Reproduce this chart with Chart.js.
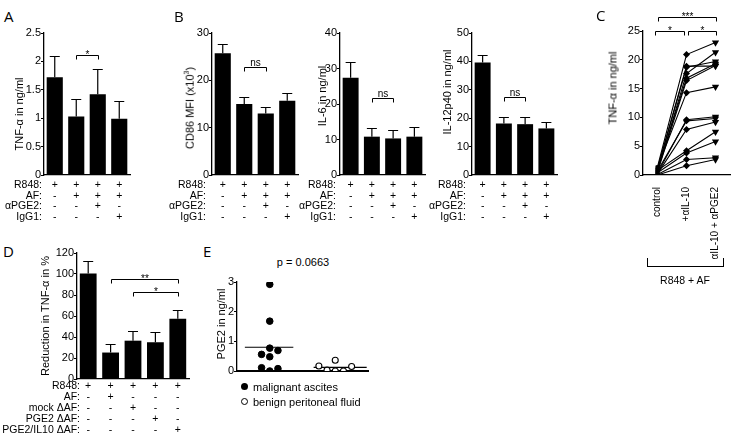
<!DOCTYPE html>
<html>
<head>
<meta charset="utf-8">
<script src="https://cdn.jsdelivr.net/npm/chart.js@4.4.0/dist/chart.umd.min.js"></script>
<style>
  body { margin: 0; background: #fff; width: 734px; height: 438px; position: relative; overflow: hidden;
         font-family: Arial, "Liberation Sans", sans-serif; color: #000; }
  canvas { position: absolute; }
  .t { position: absolute; font-size: 10.5px; line-height: 1; white-space: nowrap; color: #000; }
  .letter { position: absolute; font-family: "Open Sans", sans-serif; font-size: 15px; line-height: 1; color: #000; }
  .ylab { position: absolute; font-size: 11px; line-height: 1; white-space: nowrap; color: #000;
          transform: translate(-50%, -50%) rotate(-90deg); }
  .dot { position: absolute; width: 7px; height: 7px; border-radius: 50%; box-sizing: border-box; }
</style>
</head>
<body>
<canvas id="a"></canvas>
<canvas id="b1"></canvas>
<canvas id="b2"></canvas>
<canvas id="b3"></canvas>
<canvas id="c"></canvas>
<canvas id="d"></canvas>
<canvas id="e"></canvas>

<script>
// ---- data ----
const conditionsTop = ['R848', 'R848+AF', 'R848+AF+aPGE2', 'R848+AF+IgG1'];
const rowsTop = ['R848:', 'AF:', 'αPGE2:', 'IgG1:'];
const signsTop = [
  ['+', '+', '+', '+'],
  ['-', '+', '+', '+'],
  ['-', '-', '+', '-'],
  ['-', '-', '-', '+']
];

const tnfA = [1.72, 1.03, 1.42, 0.99];
const tnfATop = [2.09, 1.34, 1.87, 1.31];

const cd86 = [25.7, 15.0, 13.0, 15.7];
const cd86Top = [27.7, 16.5, 14.3, 17.3];

const il6 = [27.4, 10.8, 10.3, 10.8];
const il6Top = [31.7, 13.3, 12.7, 13.4];

const il12 = [39.6, 18.1, 17.9, 16.4];
const il12Top = [42.2, 20.4, 20.5, 18.8];

const cLabels = ['control', '+αIL-10', '+ αIL-10 + αPGE2'];
const tnfControl = [1.4, 1.2, 1.0, 0.6, 0.9, 0.5, 1.3, 0.3, 0.7, 0.2, 0.8, 0.4, 0.1, 0.0];
const tnfIL10 = [20.9, 18.9, 18.7, 17.6, 16.8, 16.4, 14.3, 9.6, 9.4, 7.9, 4.2, 3.8, 2.7, 1.6];
const tnfIL10PGE2 = [23.0, 18.9, 19.7, 21.3, 19.3, 19.0, 15.3, 10.1, 9.8, 9.2, 7.5, 5.8, 3.0, 2.7];

const conditionsD = ['R848', 'R848+AF', 'R848+mock', 'R848+PGE2', 'R848+PGE2/IL10'];
const rowsD = ['R848:', 'AF:', 'mock ΔAF:', 'PGE2 ΔAF:', 'PGE2/IL10 ΔAF:'];
const signsD = [
  ['+', '+', '+', '+', '+'],
  ['-', '+', '-', '-', '-'],
  ['-', '-', '+', '-', '-'],
  ['-', '-', '-', '+', '-'],
  ['-', '-', '-', '-', '+']
];
const reduction = [100.5, 25.2, 36.5, 35.0, 57.5];
const reductionTop = [112, 33.5, 46, 44.5, 66];

const pgeMalignant = [2.92, 1.68, 0.77, 0.69, 0.56, 0.48, 0.11, 0.08, 0.0];
const pgeBenign = [0.36, 0.17, 0.15, 0.03, 0.0, 0.0];
const pgeMedian = [0.8, 0.12];

// ---- setup ----
Chart.defaults.font.family = 'Arial, "Liberation Sans", sans-serif';
Chart.defaults.font.size = 11;
Chart.defaults.color = '#000';
Chart.defaults.animation = false;
Chart.defaults.plugins.legend.display = false;
Chart.defaults.plugins.tooltip.enabled = false;

const errorBarPlugin = {
  id: 'errorBars',
  afterDatasetsDraw(chart, args, opts) {
    if (!opts.tops) return;
    const ctx = chart.ctx, y = chart.scales.y;
    ctx.save();
    ctx.strokeStyle = '#000';
    ctx.lineWidth = 1.2;
    chart.getDatasetMeta(0).data.forEach((bar, i) => {
      const yt = Math.round(y.getPixelForValue(opts.tops[i])) + 0.5;
      ctx.beginPath();
      ctx.moveTo(bar.x, bar.y);
      ctx.lineTo(bar.x, yt);
      ctx.moveTo(bar.x - 5, yt);
      ctx.lineTo(bar.x + 5, yt);
      ctx.stroke();
    });
    ctx.restore();
  }
};

const bracketPlugin = {
  id: 'brackets',
  afterDraw(chart, args, opts) {
    if (!opts.items) return;
    const ctx = chart.ctx, x = chart.scales.x, y = chart.scales.y;
    ctx.save();
    ctx.strokeStyle = '#000';
    ctx.fillStyle = '#000';
    ctx.lineWidth = 1;
    ctx.font = '10px Arial, "Liberation Sans", sans-serif';
    ctx.textAlign = 'center';
    ctx.textBaseline = 'alphabetic';
    opts.items.forEach(b => {
      const x1 = Math.round(x.getPixelForValue(b.from) + (b.dx1 || 0)) + 0.5;
      const x2 = Math.round(x.getPixelForValue(b.to) + (b.dx2 || 0)) + 0.5;
      const yy = Math.round(y.getPixelForValue(b.at)) + 0.5;
      ctx.beginPath();
      ctx.moveTo(x1, yy + 4);
      ctx.lineTo(x1, yy);
      ctx.lineTo(x2, yy);
      ctx.lineTo(x2, yy + 4);
      ctx.stroke();
      const star = b.text.indexOf('*') >= 0;
      ctx.fillText(b.text, (x1 + x2) / 2, star ? yy + 2 : yy - 2);
    });
    ctx.restore();
  }
};

function place(id, box, yW, padTop, xH) {
  const cv = document.getElementById(id);
  const left = box.axis - yW;
  const top = box.top - padTop;
  cv.width = box.right - left + 6;
  cv.height = box.bottom - top + xH + 8;
  cv.style.left = left + 'px';
  cv.style.top = top + 'px';
  cv._left = left;
  return cv;
}

function yAxis(max, step, yW) {
  return {
    min: 0, max: max,
    ticks: { stepSize: step, padding: 0, font: { size: 11 },
      callback: v => String(Number(v.toFixed(2))) },
    grid: { display: true, drawOnChartArea: false, drawTicks: true, tickLength: 3, color: '#000', lineWidth: 1 },
    border: { display: true, color: '#000', width: 1.3 },
    afterFit: s => { s.width = yW; }
  };
}

function xAxisPlain(width) {
  return {
    ticks: { display: false },
    grid: { display: false },
    border: { display: true, color: '#000', width: width || 1.3 },
    afterFit: s => { s.height = 0; }
  };
}

function barPanel(id, box, labels, values, tops, max, step, brackets) {
  const yW = 30;
  const cv = place(id, box, yW, 10, 0);
  const chart = new Chart(cv, {
    type: 'bar',
    data: { labels: labels, datasets: [{ data: values, backgroundColor: '#000',
      barPercentage: 0.75, categoryPercentage: 1 }] },
    options: {
      responsive: false, devicePixelRatio: 1,
      layout: { padding: { left: 0, top: 10, right: 6, bottom: 8 } },
      scales: { x: xAxisPlain(), y: yAxis(max, step, yW) },
      plugins: { errorBars: { tops: tops }, brackets: { items: brackets } }
    },
    plugins: [errorBarPlugin, bracketPlugin]
  });
  return chart;
}

function addText(text, x, y, align, cls) {
  const el = document.createElement('div');
  el.className = cls || 't';
  el.textContent = text;
  el.style.left = x + 'px';
  el.style.top = y + 'px';
  const tx = align === 'right' ? '-100%' : align === 'center' ? '-50%' : '0';
  el.style.transform = 'translate(' + tx + ', -50%)';
  document.body.appendChild(el);
  return el;
}

function table(chart, rows, signs, labelRight, y0, dy) {
  const left = chart.canvas._left;
  rows.forEach((name, r) => {
    addText(name, labelRight, y0 + r * dy, 'right');
    signs[r].forEach((s, i) => {
      addText(s, left + chart.scales.x.getPixelForValue(i), y0 + r * dy, 'center');
    });
  });
}

function yTitle(text, x, y) {
  const el = document.createElement('div');
  el.className = 'ylab';
  el.innerHTML = text;
  el.style.left = x + 'px';
  el.style.top = y + 'px';
  document.body.appendChild(el);
}

// ---- panel A, B ----
const chartA = barPanel('a', { axis: 44, top: 33, right: 130, bottom: 175 }, conditionsTop, tnfA, tnfATop, 2.5, 0.5,
  [{ from: 1, to: 2, at: 2.11, text: '*' }]);
const chartB1 = barPanel('b1', { axis: 212, top: 33, right: 298, bottom: 175 }, conditionsTop, cd86, cd86Top, 30, 10,
  [{ from: 1, to: 2, at: 22.9, text: 'ns' }]);
const chartB2 = barPanel('b2', { axis: 340, top: 33, right: 425, bottom: 175 }, conditionsTop, il6, il6Top, 40, 10,
  [{ from: 1, to: 2, at: 21.6, text: 'ns' }]);
const chartB3 = barPanel('b3', { axis: 472, top: 33, right: 557, bottom: 175 }, conditionsTop, il12, il12Top, 50, 10,
  [{ from: 1, to: 2, at: 27.5, text: 'ns' }]);

table(chartA, rowsTop, signsTop, 42, 184, 10.5);
table(chartB1, rowsTop, signsTop, 206, 184, 10.5);
table(chartB2, rowsTop, signsTop, 336, 184, 10.5);
table(chartB3, rowsTop, signsTop, 466, 184, 10.5);

// ---- panel C ----
const boxC = { axis: 643, top: 31, right: 730, bottom: 175 };
const cvC = place('c', boxC, 25, 26, 84);
new Chart(cvC, {
  type: 'line',
  data: {
    labels: cLabels,
    datasets: tnfControl.map((v, i) => ({
      data: [v, tnfIL10[i], tnfIL10PGE2[i]],
      borderColor: '#000', borderWidth: 1.1, backgroundColor: '#000',
      pointStyle: ['rect', 'rectRot', 'triangle'],
      pointRotation: [0, 0, 180],
      pointRadius: [2.5, 3.5, 4.2],
      pointBorderWidth: 0
    }))
  },
  options: {
    responsive: false, devicePixelRatio: 1,
    layout: { padding: { left: 0, top: 26, right: 6, bottom: 8 } },
    scales: {
      x: {
        offset: true,
        ticks: { autoSkip: false, minRotation: 90, maxRotation: 90, padding: 4, font: { size: 10 } },
        grid: { display: false },
        border: { display: true, color: '#000', width: 1.3 },
        afterFit: s => { s.height = 84; }
      },
      y: yAxis(25, 5, 25)
    },
    plugins: {
      brackets: { items: [
        { from: 0, to: 2, at: 27.4, text: '***' },
        { from: 0, to: 1, at: 25, text: '*', dx1: -3, dx2: -3 },
        { from: 1, to: 2, at: 25, text: '*', dx1: 1 }
      ] }
    }
  },
  plugins: [bracketPlugin]
});

// ---- panel D ----
const chartD = barPanel('d', { axis: 77, top: 253, right: 189, bottom: 379 }, conditionsD, reduction, reductionTop, 120, 20,
  [{ from: 1, to: 4, at: 95, text: '**' }, { from: 2, to: 4, at: 82.5, text: '*' }]);
table(chartD, rowsD, signsD, 80, 385, 11);

// ---- panel E ----
const malignantSpread = [0, 0, 0, 0.25, -0.25, 0, -0.25, 0.25, 0];
const benignSpread = [0, -0.5, 0.5, -0.25, 0, 0.25];
const cvE = place('e', { axis: 237, top: 282, right: 368, bottom: 371 }, 25, 10, 0);
new Chart(cvE, {
  type: 'scatter',
  data: {
    datasets: [
      { data: pgeMalignant.map((v, i) => ({ x: 1 + malignantSpread[i], y: v })),
        pointRadius: 3.3, backgroundColor: '#000', borderColor: '#000' },
      { data: pgeBenign.map((v, i) => ({ x: 3 + benignSpread[i], y: v })),
        pointRadius: 3, backgroundColor: '#fff', borderColor: '#000', borderWidth: 1.1 },
      { data: [{ x: 1 - 0.76, y: pgeMedian[0] }, { x: 1 + 0.72, y: pgeMedian[0] }],
        showLine: true, pointRadius: 0, borderColor: '#000', borderWidth: 1.2 },
      { data: [{ x: 3 - 0.66, y: pgeMedian[1] }, { x: 3 + 0.96, y: pgeMedian[1] }],
        showLine: true, pointRadius: 0, borderColor: '#000', borderWidth: 1.2 }
    ]
  },
  options: {
    responsive: false, devicePixelRatio: 1,
    layout: { padding: { left: 0, top: 10, right: 6, bottom: 8 } },
    scales: {
      x: Object.assign({ type: 'linear', min: 0, max: 4 }, xAxisPlain(2)),
      y: yAxis(3, 1, 25)
    }
  }
});

// ---- text ----
addText('A', 4, 16, 'left', 'letter');
addText('B', 174, 16, 'left', 'letter');
addText('C', 596, 15, 'left', 'letter');
addText('D', 3, 251, 'left', 'letter');
addText('E', 203, 251, 'left', 'letter');

yTitle('TNF-α in ng/ml', 19, 114);
yTitle('CD86 MFI (x10<sup style="font-size:7px">3</sup>)', 189, 108);
yTitle('IL-6 in ng/ml', 322, 96);
yTitle('IL-12p40 in ng/ml', 447, 92);
yTitle('TNF-α in ng/ml', 613, 88);
yTitle('Reduction in TNF-α in %', 45, 316);
yTitle('PGE2 in ng/ml', 221, 324);

addText('p = 0.0663', 303, 262, 'center').style.fontSize = '11px';

// C: shared condition bracket
const brC = document.createElement('div');
brC.style.cssText = 'position:absolute;left:647px;top:258px;width:75px;height:8px;border:1px solid #000;border-top:none;';
document.body.appendChild(brC);
addText('R848 + AF', 685, 280, 'center');

// E legend
const d1 = document.createElement('div');
d1.className = 'dot';
d1.style.cssText += 'left:241px;top:383px;background:#000;';
document.body.appendChild(d1);
const d2 = document.createElement('div');
d2.className = 'dot';
d2.style.cssText += 'left:241px;top:398px;border:1px solid #000;background:#fff;';
document.body.appendChild(d2);
addText('malignant ascites', 253, 387, 'left').style.fontSize = '11px';
addText('benign peritoneal fluid', 253, 402, 'left').style.fontSize = '11px';
</script>
</body>
</html>
